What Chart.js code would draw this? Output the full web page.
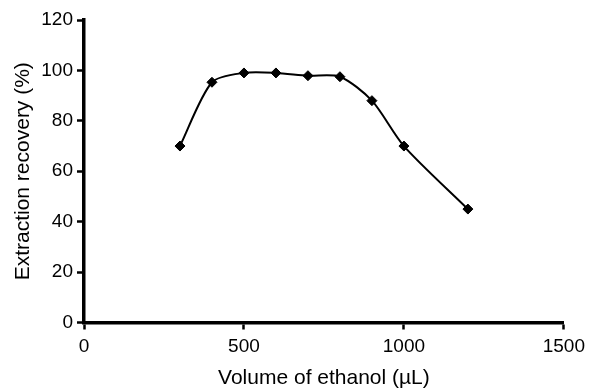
<!DOCTYPE html>
<html>
<head>
<meta charset="utf-8">
<script src="https://cdn.jsdelivr.net/npm/chart.js@4.4.1/dist/chart.umd.min.js"></script>
<style>
  html, body { margin: 0; padding: 0; background: #fff; }
  #wrap { width: 591px; height: 390px; }
</style>
</head>
<body>
<div id="wrap"><canvas id="chart" width="591" height="390"></canvas></div>
<script>
// ethanol volume (µL) and extraction recovery (%)
const volumes = [300, 400, 500, 600, 700, 800, 900, 1000, 1200];
const recovery = [70, 95.3, 99, 99, 97.9, 97.5, 88, 70, 45];

const xTicks = [0, 500, 1000, 1500];
const yTicks = [0, 20, 40, 60, 80, 100, 120];

const xTitle = 'Volume of ethanol (\u00b5L)';
const yTitle = 'Extraction recovery (%)';

const FONT = "'Liberation Sans', Arial, Helvetica, sans-serif";

const points = volumes.map((v, i) => ({ x: v, y: recovery[i] }));

function axisStyle() {
    return {
        border: { display: true, color: '#000', width: 3.5 },
        grid: {
            display: true,
            drawOnChartArea: false,
            drawTicks: true,
            tickLength: 7,
            tickWidth: 2.5,
            tickColor: '#000'
        }
    };
}

new Chart(document.getElementById('chart').getContext('2d'), {
    type: 'scatter',
    data: {
        datasets: [{
            data: points,
            showLine: true,
            borderColor: '#000',
            backgroundColor: '#000',
            borderWidth: 2,
            tension: 0.27,
            pointStyle: 'rectRot',
            pointRadius: 5,
            pointBorderWidth: 1,
            pointBorderColor: '#000',
            pointBackgroundColor: '#000'
        }]
    },
    options: {
        responsive: false,
        animation: false,
        layout: { padding: { top: 20, right: 19, left: 0, bottom: 0 } },
        plugins: {
            legend: { display: false },
            tooltip: { enabled: false }
        },
        scales: {
            x: {
                type: 'linear',
                min: 0,
                max: 1500,
                ...axisStyle(),
                afterBuildTicks: s => { s.ticks = xTicks.map(v => ({ value: v })); },
                afterFit: s => { s.height = 67.5; },
                ticks: {
                    color: '#000',
                    padding: 6,
                    font: { family: FONT, size: 19 },
                    callback: v => String(v)
                },
                title: {
                    display: true,
                    text: xTitle,
                    color: '#000',
                    font: { family: FONT, size: 21, lineHeight: 1 },
                    padding: { top: 0, bottom: 1.5 }
                }
            },
            y: {
                type: 'linear',
                min: 0,
                max: 120,
                ...axisStyle(),
                afterBuildTicks: s => { s.ticks = yTicks.map(v => ({ value: v })); },
                afterFit: s => { s.width = 84; },
                ticks: {
                    color: '#000',
                    padding: 4,
                    font: { family: FONT, size: 19 },
                    callback: v => String(v)
                },
                title: {
                    display: true,
                    text: yTitle,
                    color: '#000',
                    font: { family: FONT, size: 21, lineHeight: 1 },
                    padding: { top: 13, bottom: 0 }
                }
            }
        }
    }
});
</script>
</body>
</html>
